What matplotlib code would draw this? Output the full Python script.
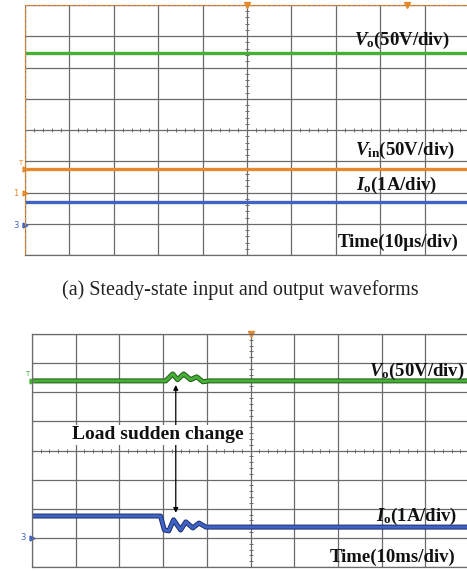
import matplotlib.pyplot as plt
import matplotlib.patheffects as pe
import numpy as np

plt.rcParams['mathtext.fontset'] = 'custom'
plt.rcParams['mathtext.rm'] = 'Liberation Serif:bold'
plt.rcParams['mathtext.it'] = 'Liberation Serif:italic:bold'
plt.rcParams['mathtext.bf'] = 'Liberation Serif:bold'

# ---------- data (screen divisions: x 0..10, y 0..8) ----------
# (a) steady state
a_x = [0, 10]
a_vo = [6.46, 6.46]
a_vin = [2.75, 2.75]
a_io = [1.70, 1.70]

# (b) load step
b_vo_x = [0, 3.06, 3.22, 3.33, 3.47, 3.63, 3.77, 3.91, 4.05, 10]
b_vo_y = [6.39, 6.39, 6.63, 6.43, 6.63, 6.43, 6.53, 6.36, 6.39, 6.39]
b_io_x = [0, 2.94, 3.03, 3.13, 3.24, 3.40, 3.52, 3.68, 3.82, 3.98, 10]
b_io_y = [1.75, 1.75, 1.27, 1.24, 1.62, 1.27, 1.55, 1.34, 1.51, 1.37, 1.37]

GREEN = '#45b035'
ORANGE = '#e38a2e'
BLUE = '#3f63c4'
GRID = '#6b6b6b'

lab_font = dict(family='Liberation Serif', fontweight='bold', fontsize=13.5,
                color='#111111', ha='center', va='center')

fig = plt.figure(figsize=(4.67, 5.71), dpi=100)


def scope_axes(rect):
    ax = fig.add_axes(rect)
    ax.set_xlim(0, 10)
    ax.set_ylim(0, 8)
    ax.set_xticks(range(11))
    ax.set_yticks(range(9))
    ax.grid(True, color=GRID, lw=0.9)
    ax.tick_params(length=0, labelleft=False, labelbottom=False)
    for s in ax.spines.values():
        s.set_color(GRID)
        s.set_linewidth(0.9)
    # small ticks on the centre lines
    sub = np.arange(0, 10.01, 0.2)
    ax.plot(sub, [4] * len(sub), ls='none', marker='|', ms=2.5, color=GRID, mew=0.7)
    sub_y = np.arange(0, 8.01, 0.2)
    ax.plot([5] * len(sub_y), sub_y, ls='none', marker='_', ms=2.5, color=GRID, mew=0.7)
    return ax


# ---------- panel (a) ----------
ax1 = scope_axes([25 / 467, 1 - 255 / 571, 444 / 467, 250 / 571])
ax1.spines['left'].set_color(ORANGE)
ax1.spines['left'].set_linestyle((0, (2, 2)))
ax1.spines['top'].set_color(ORANGE)
ax1.spines['top'].set_linestyle((0, (2, 2)))
ax1.plot(a_x, a_vo, color=GREEN, lw=2.4, solid_capstyle='butt')
ax1.plot(a_x, a_vin, color=ORANGE, lw=2.4, solid_capstyle='butt')
ax1.plot(a_x, a_io, color=BLUE, lw=2.4, solid_capstyle='butt')

ax1.text(8.49, 6.88, r'$V_{\rm o}$(50V/div)', **lab_font)
ax1.text(8.56, 3.36, r'$V_{\rm in}$(50V/div)', **lab_font)
ax1.text(8.36, 2.21, r'$I_{\rm o}$(1A/div)', **lab_font)
ax1.text(8.40, 0.42, 'Time(10\u03bcs/div)', **lab_font)

# scope markers
ax1.plot([5, 8.6], [8, 8], ls='none', marker='v', ms=4, color=ORANGE, clip_on=False)
ax1.plot([0], [a_vin[0]], ls='none', marker='>', ms=3.5, color=ORANGE, clip_on=False)
ax1.text(-0.1, a_vin[0] + 0.2, 'T', fontsize=5, color=ORANGE, ha='center', va='center')
ax1.plot([0], [1.98], ls='none', marker='>', ms=3.5, color=ORANGE, clip_on=False)
ax1.text(-0.2, 1.98, '1', fontsize=6, color=ORANGE, ha='center', va='center')
ax1.plot([0], [0.96], ls='none', marker='>', ms=3.5, color=BLUE, clip_on=False)
ax1.text(-0.2, 0.96, '3', fontsize=6, color=BLUE, ha='center', va='center')

fig.text(240 / 467, 1 - 290 / 571, '(a) Steady-state input and output waveforms',
         family='Liberation Serif', fontsize=14.5, color='#222222',
         ha='center', va='center')

# ---------- panel (b) ----------
ax2 = scope_axes([32 / 467, 1 - 567 / 571, 437 / 467, 233 / 571])
stroke_g = [pe.Stroke(linewidth=3.6, foreground='#1f5a17'), pe.Normal()]
stroke_b = [pe.Stroke(linewidth=3.6, foreground='#1d2f6b'), pe.Normal()]
ax2.plot(b_vo_x, b_vo_y, color=GREEN, lw=2.2, path_effects=stroke_g)
ax2.plot(b_io_x, b_io_y, color=BLUE, lw=2.2, path_effects=stroke_b)

ax2.annotate('', xy=(3.29, 6.25), xytext=(3.29, 1.86),
             arrowprops=dict(arrowstyle='<|-|>', color='black', lw=0.9,
                             mutation_scale=7, shrinkA=0, shrinkB=0))
ax2.text(2.87, 4.54, 'Load sudden change', family='Liberation Serif',
         fontweight='bold', fontsize=14, color='#111111', ha='center', va='center',
         bbox=dict(facecolor='white', edgecolor='none', pad=1))

ax2.text(8.8, 6.70, r'$V_{\rm o}$(50V/div)', **lab_font)
ax2.text(8.8, 1.72, r'$I_{\rm o}$(1A/div)', **lab_font)
ax2.text(8.25, 0.34, 'Time(10ms/div)', **lab_font)

ax2.plot([5], [8], ls='none', marker='v', ms=4, color=ORANGE, clip_on=False)
ax2.plot([0], [b_vo_y[0]], ls='none', marker='>', ms=3.5, color=GREEN, clip_on=False)
ax2.text(-0.1, b_vo_y[0] + 0.22, 'T', fontsize=5, color=GREEN, ha='center', va='center')
ax2.plot([0], [1.0], ls='none', marker='>', ms=3.5, color=BLUE, clip_on=False)
ax2.text(-0.2, 1.0, '3', fontsize=6, color=BLUE, ha='center', va='center')

fig.savefig('out.png', dpi=100)
